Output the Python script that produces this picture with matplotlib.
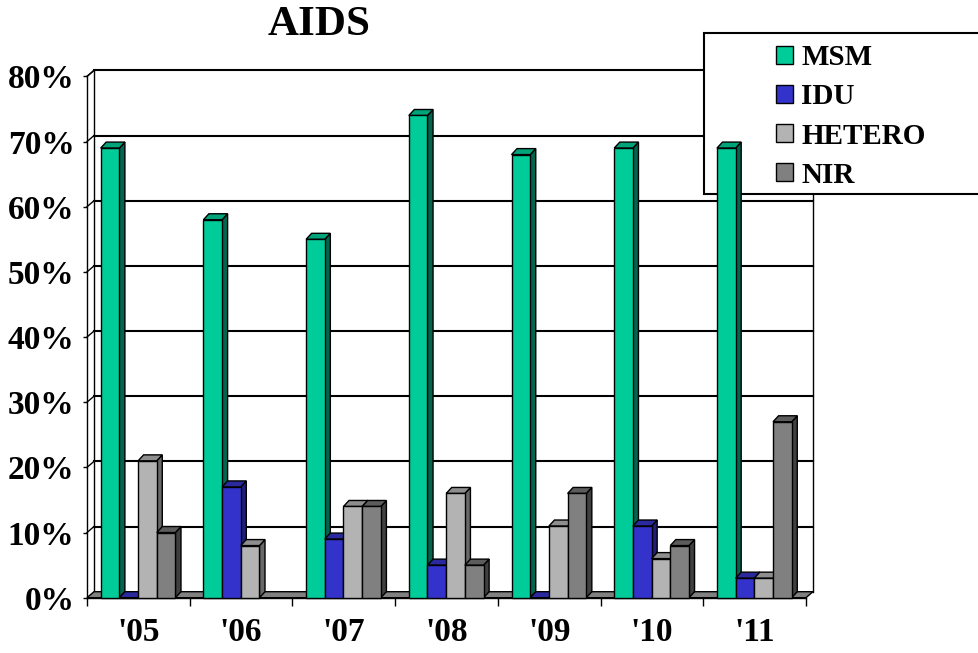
import matplotlib
matplotlib.use('Agg')
import math
import matplotlib.pyplot as plt
from matplotlib.patches import Polygon, Rectangle

# AIDS - 전파경로별 비율
years = ["'05", "'06", "'07", "'08", "'09", "'10", "'11"]
series = ['MSM', 'IDU', 'HETERO', 'NIR']
msm = [69, 58, 55, 74, 68, 69, 69]
idu = [0, 17, 9, 5, 0, 11, 3]
hetero = [21, 8, 14, 16, 11, 6, 3]
nir = [10, float('nan'), 14, 5, 16, 8, 27]   # '06 has no NIR bar
y_ticks = [0, 10, 20, 30, 40, 50, 60, 70, 80]

front_colors = ['#00CC99', '#3333CC', '#B3B3B3', '#808080']
top_colors = ['#00A37A', '#2A2A9E', '#8E8E8E', '#5C5C5C']
side_colors = ['#006650', '#1F1F7A', '#686868', '#404040']

plt.rcParams['font.family'] = ['Liberation Serif', 'DejaVu Serif']
plt.rcParams['font.weight'] = 'bold'

BW = 0.182      # bar width (one group = 1)
OFF = 0.133     # left gap inside group
DX, DY = 0.054, 0.92     # bar depth
WX, WY = 0.068, 0.92     # wall depth


def main():
    fig = plt.figure(figsize=(9.79, 6.53), dpi=100)
    ax = fig.add_axes([87 / 979, 55.3 / 653, 719 / 979, 521.3 / 653])
    n = len(years)

    # back wall, side wall, grid
    for v in y_ticks[1:]:
        ax.plot([WX, n + WX], [v + WY, v + WY], color='black', lw=1.5, zorder=1, clip_on=False)
        ax.plot([0, WX], [v, v + WY], color='black', lw=1.0, zorder=1, clip_on=False)
    ax.plot([WX, WX], [WY, y_ticks[-1] + WY], color='black', lw=1.0, zorder=1, clip_on=False)
    ax.plot([n + WX, n + WX], [WY, y_ticks[-1] + WY], color='black', lw=1.0, zorder=1, clip_on=False)

    # floor
    floor = Polygon([(0, 0), (n, 0), (n + WX, WY), (WX, WY)], closed=True,
                    facecolor='#808080', edgecolor='black', lw=1.0, zorder=2.2, clip_on=False)
    ax.add_patch(floor)

    # legend box (the bars run over it)
    box = Rectangle((704 / 979, 1 - 194 / 653), (990 - 704) / 979, (194 - 33) / 653,
                    transform=fig.transFigure, facecolor='white', edgecolor='black',
                    lw=1.5, zorder=2, clip_on=False)
    ax.add_patch(box)

    handles = []
    for k, vals in enumerate([msm, idu, hetero, nir]):
        lefts = [i + OFF + k * BW for i in range(n)]
        z = 3 + k * 0.1
        for xl, h in zip(lefts, vals):
            if math.isnan(h):
                continue
            side = [(xl + BW, 0), (xl + BW, h), (xl + BW + DX, h + DY), (xl + BW + DX, DY)]
            top = [(xl, h), (xl + BW, h), (xl + BW + DX, h + DY), (xl + DX, h + DY)]
            ax.add_patch(Polygon(side, closed=True, facecolor=side_colors[k], edgecolor='black',
                                 lw=1.0, zorder=z, clip_on=False))
            ax.add_patch(Polygon(top, closed=True, facecolor=top_colors[k], edgecolor='black',
                                 lw=1.0, zorder=z, clip_on=False))
        b = ax.bar(lefts, vals, width=BW, align='edge', color=front_colors[k],
                   edgecolor='black', lw=1.0, zorder=z + 0.05, clip_on=False)
        handles.append(b)

    ax.set_xlim(0, n)
    ax.set_ylim(0, y_ticks[-1])

    # left wall top edge
    ax.plot([0, WX], [y_ticks[-1], y_ticks[-1] + WY], color='black', lw=1.0, zorder=1, clip_on=False)

    for s in ['top', 'right']:
        ax.spines[s].set_visible(False)
    ax.spines['left'].set_linewidth(1.0)
    ax.spines['bottom'].set_linewidth(1.0)
    ax.set_facecolor('none')

    ax.set_yticks(y_ticks)
    ax.set_yticklabels([f'{v}%' for v in y_ticks], fontsize=24, fontweight='bold')
    ax.tick_params(axis='y', length=3, width=1, pad=6)

    ax.set_xticks(range(n + 1))
    ax.set_xticklabels([])
    ax.tick_params(axis='x', which='major', length=6, width=1)
    ax.set_xticks([i + 0.5 for i in range(n)], minor=True)
    ax.set_xticklabels(years, minor=True, fontsize=24, fontweight='bold')
    ax.tick_params(axis='x', which='minor', length=0, pad=14)

    leg = ax.legend([h for h in handles], series, loc='upper left',
                    bbox_to_anchor=(776 / 979, 1 - 44 / 653), bbox_transform=fig.transFigure,
                    frameon=False, prop={'size': 21, 'weight': 'bold'},
                    handlelength=0.57, handleheight=0.57, handletextpad=0.3,
                    labelspacing=0.42, borderpad=0, borderaxespad=0)
    leg.set_zorder(2.5)

    fig.text(319 / 979, 1 - 25 / 653, 'AIDS', ha='center', va='center',
             fontsize=31, fontweight='bold')

    fig.savefig('out.png', dpi=100)


if __name__ == '__main__':
    main()
